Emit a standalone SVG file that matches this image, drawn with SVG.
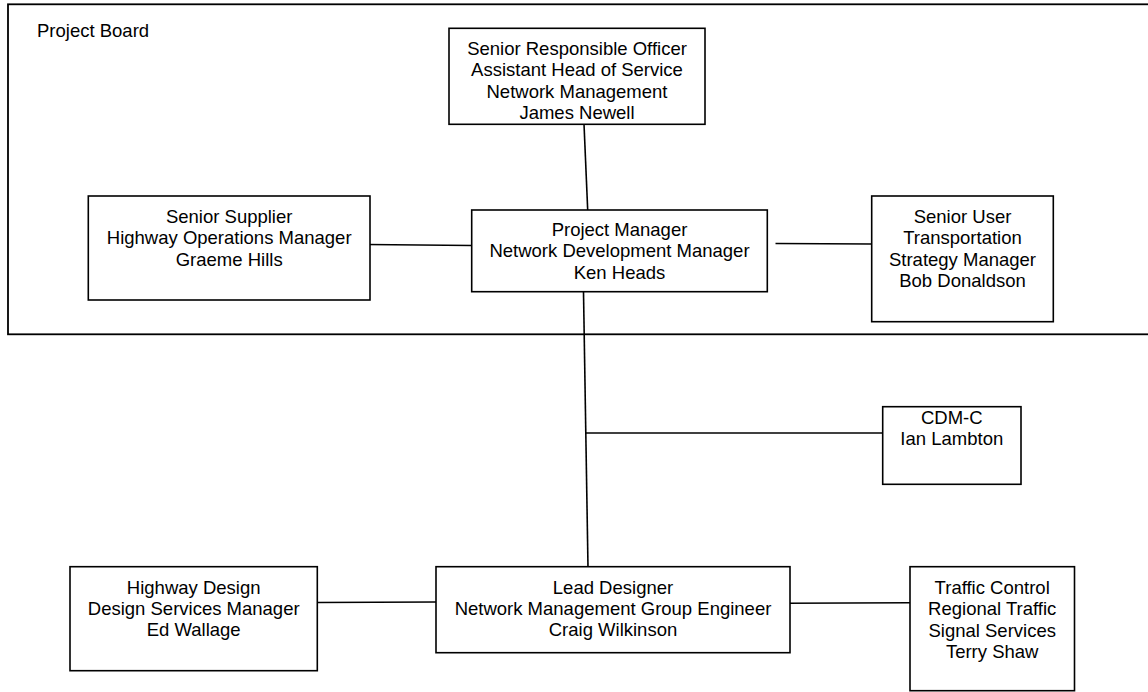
<svg xmlns="http://www.w3.org/2000/svg" width="1148" height="692" viewBox="0 0 1148 692">
<style>
.box{fill:#fff;stroke:#000;stroke-width:1.6}
.frame{fill:none;stroke:#000;stroke-width:1.8}
.conn line{stroke:#000;stroke-width:1.6}
text{font-family:"Liberation Sans",Arial,sans-serif;font-size:18.5px;fill:#000}
.c{text-anchor:middle}
</style>
<rect width="1148" height="692" fill="#fff"/>
<g id="project-board">
<rect class="frame" x="8" y="4.3" width="1150" height="330"/>
<text x="37" y="36.7" font-size="17px">Project Board</text>
</g>
<g class="conn" id="connectors">
<line x1="584" y1="124" x2="587.7" y2="210"/>
<line x1="367" y1="244.5" x2="472" y2="245.5"/>
<line x1="775.5" y1="243.5" x2="872" y2="244"/>
<line x1="583.5" y1="292" x2="588" y2="567"/>
<line x1="585" y1="433" x2="883" y2="433"/>
<line x1="317" y1="602.5" x2="436" y2="602"/>
<line x1="785.7" y1="603.3" x2="910" y2="602.7"/>
</g>
<g id="sro">
<rect class="box" x="449" y="28.3" width="256" height="96"/>
<text class="c" x="577" y="55">Senior Responsible Officer</text>
<text class="c" x="577" y="76.3">Assistant Head of Service</text>
<text class="c" x="577" y="97.6">Network Management</text>
<text class="c" x="577" y="119">James Newell</text>
</g>
<g id="senior-supplier">
<rect class="box" x="88.3" y="196" width="281.7" height="104"/>
<text class="c" x="229.2" y="223">Senior Supplier</text>
<text class="c" x="229.2" y="244.3">Highway Operations Manager</text>
<text class="c" x="229.2" y="265.6">Graeme Hills</text>
</g>
<g id="project-manager">
<rect class="box" x="471.7" y="210" width="295.6" height="81.7"/>
<text class="c" x="619.5" y="236">Project Manager</text>
<text class="c" x="619.5" y="257.3">Network Development Manager</text>
<text class="c" x="619.5" y="278.6">Ken Heads</text>
</g>
<g id="senior-user">
<rect class="box" x="871.7" y="196" width="181.6" height="125.7"/>
<text class="c" x="962.5" y="223">Senior User</text>
<text class="c" x="962.5" y="244.3">Transportation</text>
<text class="c" x="962.5" y="265.6">Strategy Manager</text>
<text class="c" x="962.5" y="286.9">Bob Donaldson</text>
</g>
<g id="cdm-c">
<rect class="box" x="882.7" y="406.7" width="138.3" height="77.6"/>
<text class="c" x="951.8" y="424">CDM-C</text>
<text class="c" x="951.8" y="445.3">Ian Lambton</text>
</g>
<g id="highway-design">
<rect class="box" x="70" y="566.7" width="247.3" height="104"/>
<text class="c" x="193.7" y="593.7">Highway Design</text>
<text class="c" x="193.7" y="615">Design Services Manager</text>
<text class="c" x="193.7" y="636.3">Ed Wallage</text>
</g>
<g id="lead-designer">
<rect class="box" x="436" y="566.7" width="354" height="86"/>
<text class="c" x="613" y="593.7">Lead Designer</text>
<text class="c" x="613" y="615">Network Management Group Engineer</text>
<text class="c" x="613" y="636.3">Craig Wilkinson</text>
</g>
<g id="traffic-control">
<rect class="box" x="910" y="566.7" width="164.5" height="124"/>
<text class="c" x="992.2" y="594">Traffic Control</text>
<text class="c" x="992.2" y="615.3">Regional Traffic</text>
<text class="c" x="992.2" y="636.7">Signal Services</text>
<text class="c" x="992.2" y="658">Terry Shaw</text>
</g>
</svg>
